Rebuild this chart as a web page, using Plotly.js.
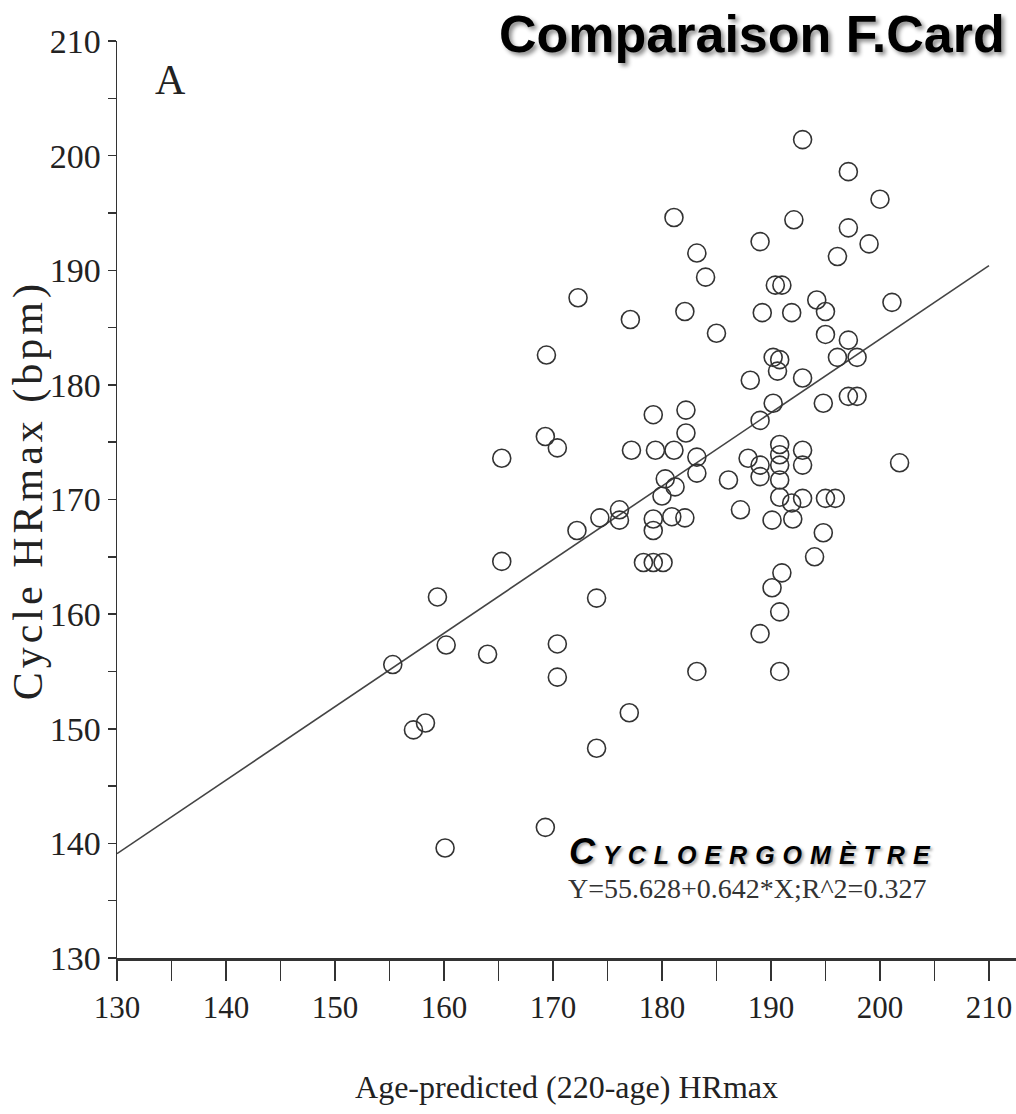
<!DOCTYPE html>
<html><head><meta charset="utf-8">
<script src="https://cdn.plot.ly/plotly-3.0.1.min.js"></script>
<style>html,body{margin:0;padding:0;background:#fff;}#chart{width:1016px;height:1114px;}</style>
</head><body><div id="chart"></div>
<script>
// Age-predicted (220-age) HRmax
const predictedHR = [155.3,159.4,160.2,157.2,158.3,160.1,164.0,165.3,165.3,169.4,
169.3,170.4,170.4,170.4,169.3,172.2,174.3,172.3,174.0,174.0,
176.1,176.1,177.1,177.0,177.2,178.3,179.2,180.1,179.2,179.4,
180.3,181.2,180.0,179.2,179.2,180.9,182.1,181.1,182.2,182.2,
183.2,183.2,181.1,183.2,184.0,182.1,185.0,183.2,186.1,187.2,
188.1,187.9,189.0,189.2,189.0,189.0,189.0,189.0,190.4,191.0,
190.2,190.8,190.6,190.2,190.8,190.8,190.8,190.8,190.8,190.1,
191.9,192.0,191.0,190.1,190.8,190.8,191.9,192.1,192.9,197.1,
200.0,197.1,199.0,196.1,201.1,194.2,195.0,195.0,197.1,197.9,
196.1,192.9,194.8,197.1,197.9,192.9,192.9,201.8,192.9,195.0,
195.9,194.8,194.0];
// Cycle HRmax (bpm)
const cycleHR = [155.6,161.5,157.3,149.9,150.5,139.6,156.5,164.6,173.6,182.6,
175.5,174.5,157.4,154.5,141.4,167.3,168.4,187.6,161.4,148.3,
169.1,168.2,185.7,151.4,174.3,164.5,164.5,164.5,177.4,174.3,
171.8,171.1,170.3,168.3,167.3,168.5,168.4,174.3,177.8,175.8,
173.7,172.3,194.6,191.5,189.4,186.4,184.5,155.0,171.7,169.1,
180.4,173.6,192.5,186.3,176.9,173.0,172.0,158.3,188.7,188.7,
182.4,182.2,181.2,178.4,174.8,173.9,173.0,171.7,170.2,168.2,
169.7,168.3,163.6,162.3,160.2,155.0,186.3,194.4,201.4,198.6,
196.2,193.7,192.3,191.2,187.2,187.4,186.4,184.4,183.9,182.4,
182.4,180.6,178.4,179.0,179.0,174.3,173.0,173.2,170.1,170.1,
170.1,167.1,165.0];
// regression line end points
const fitX = [130, 210];
const fitY = [139.1, 190.4];
const xTickVals = [130,140,150,160,170,180,190,200,210];
const yTickVals = [130,140,150,160,170,180,190,200,210];
const chartTitle = "Comparaison F.Card";
const panelLabel = "A";
const deviceLabel = "Cycloergomètre";
const equationLabel = "Y=55.628+0.642*X;R^2=0.327";
const xTitle = "Age-predicted (220-age) HRmax";
const yTitle = "Cycle HRmax (bpm)";

const serif = "Liberation Serif, Times New Roman, serif";
const ink = "#333";

const traces = [
  {x: fitX, y: fitY, mode: "lines", line: {color: "#444", width: 1.6}, hoverinfo: "skip", showlegend: false},
  {x: predictedHR, y: cycleHR, mode: "markers", showlegend: false,
   marker: {symbol: "circle-open", size: 18, color: ink, line: {color: ink, width: 1.6}}}
];

const layout = {
  width: 1016, height: 1114,
  margin: {l: 117, r: 0, t: 41, b: 156},
  paper_bgcolor: "#fff", plot_bgcolor: "#fff",
  showlegend: false,
  xaxis: {
    range: [130, 212.48], showgrid: false, zeroline: false,
    showline: true, linecolor: ink, linewidth: 2.5,
    ticks: "outside", ticklen: 20, tickwidth: 1.5, tickcolor: ink,
    tickvals: xTickVals, ticktext: xTickVals.map(String),
    tickfont: {family: serif, size: 31, color: "#222"},
    minor: {dtick: 5, ticks: "outside", ticklen: 20, tickwidth: 1.5, tickcolor: ink, showgrid: false},
    title: {text: xTitle, font: {family: serif, size: 32, color: "#222"}, standoff: 52}
  },
  yaxis: {
    range: [130, 210], showgrid: false, zeroline: false,
    showline: true, linecolor: ink, linewidth: 1.5,
    ticks: "outside", ticklen: 8, tickwidth: 1.5, tickcolor: ink,
    tickvals: yTickVals, ticktext: yTickVals.map(String),
    tickfont: {family: serif, size: 34, color: "#222"},
    minor: {dtick: 5, ticks: "outside", ticklen: 8, tickwidth: 1.5, tickcolor: ink, showgrid: false}
  },
  annotations: [
    {text: chartTitle, xref: "paper", yref: "paper", x: 0.4227, y: 1.0076, xanchor: "left", yanchor: "middle",
     showarrow: false, font: {family: "Liberation Sans, Arial, sans-serif", size: 52, weight: 700, color: "#000", shadow: "3px 3px 4px rgba(0,0,0,0.45)"}},
    {text: panelLabel, xref: "paper", yref: "paper", x: 0.059, y: 0.9575, xanchor: "center", yanchor: "middle",
     showarrow: false, font: {family: serif, size: 42, color: "#222"}},
    {text: '<span style="letter-spacing:8px">' + deviceLabel + '</span>', xref: "paper", yref: "paper", x: 0.5006, y: 0.1156, xanchor: "left", yanchor: "middle",
     showarrow: false, font: {family: "Liberation Sans, Arial, sans-serif", size: 36, weight: 900, style: "italic", variant: "small-caps", color: "#000", shadow: "2px 2px 3px rgba(0,0,0,0.35)"}},
    {text: equationLabel, xref: "paper", yref: "paper", x: 0.4994, y: 0.0763, xanchor: "left", yanchor: "middle",
     showarrow: false, font: {family: serif, size: 28, color: "#333"}},
    {text: '<span style="letter-spacing:4px">' + yTitle + '</span>', xref: "paper", yref: "paper", x: -0.099, y: 0.51, xanchor: "center", yanchor: "middle",
     textangle: -90, showarrow: false, font: {family: serif, size: 42, color: "#222"}}
  ]
};

Plotly.newPlot("chart", traces, layout, {staticPlot: true, displayModeBar: false});
</script>
</body></html>
